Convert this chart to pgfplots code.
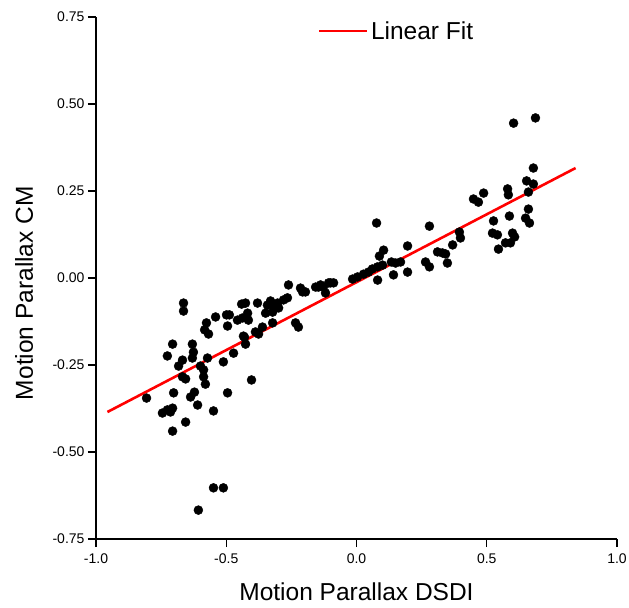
\documentclass[border=0pt]{standalone}
\usepackage{fontspec}
\setmainfont{Liberation Sans}
\usepackage{pgfplots}
\usepackage{pgfplotstable}
\pgfplotsset{compat=1.18}
\pgfplotstableread{
x y
-0.664 -0.072
-0.664 -0.095
-0.806 -0.345
-0.745 -0.388
-0.726 -0.379
-0.706 -0.374
-0.714 -0.385
-0.706 -0.440
-0.656 -0.414
-0.726 -0.224
-0.706 -0.190
-0.702 -0.330
-0.683 -0.253
-0.668 -0.236
-0.668 -0.284
-0.656 -0.290
-0.637 -0.342
-0.622 -0.328
-0.610 -0.365
-0.630 -0.190
-0.626 -0.213
-0.630 -0.230
-0.599 -0.253
-0.587 -0.264
-0.587 -0.284
-0.580 -0.305
-0.572 -0.230
-0.549 -0.382
-0.511 -0.241
-0.495 -0.330
-0.472 -0.216
-0.403 -0.293
-0.426 -0.190
-0.430 -0.170
-0.541 -0.112
-0.576 -0.129
-0.583 -0.149
-0.568 -0.161
-0.499 -0.106
-0.495 -0.138
-0.488 -0.106
-0.441 -0.075
-0.426 -0.072
-0.457 -0.121
-0.438 -0.115
-0.418 -0.101
-0.415 -0.121
-0.388 -0.155
-0.376 -0.161
-0.380 -0.072
-0.361 -0.141
-0.349 -0.101
-0.342 -0.078
-0.330 -0.066
-0.322 -0.098
-0.322 -0.129
-0.319 -0.080
-0.303 -0.072
-0.299 -0.086
-0.280 -0.063
-0.265 -0.057
-0.234 -0.129
-0.223 -0.141
-0.207 -0.040
-0.196 -0.040
-0.607 -0.667
-0.549 -0.603
-0.511 -0.603
-0.434 -0.167
-0.261 -0.020
-0.215 -0.029
-0.157 -0.026
-0.138 -0.020
-0.119 -0.043
-0.107 -0.014
-0.088 -0.014
-0.146 -0.026
-0.127 -0.026
-0.100 -0.014
-0.015 -0.003
0.004 0.003
0.027 0.011
0.046 0.017
0.061 0.026
0.081 0.032
0.081 -0.006
0.077 0.158
0.088 0.063
0.104 0.080
0.134 0.046
0.150 0.043
0.169 0.046
0.142 0.009
0.100 0.037
0.196 0.092
0.196 0.017
0.265 0.046
0.280 0.032
0.280 0.149
0.311 0.075
0.330 0.072
0.342 0.069
0.349 0.043
0.369 0.095
0.395 0.132
0.399 0.115
0.449 0.227
0.468 0.218
0.488 0.244
0.526 0.164
0.522 0.129
0.541 0.124
0.545 0.083
0.580 0.256
0.583 0.239
0.587 0.178
0.572 0.101
0.591 0.101
0.599 0.129
0.607 0.118
0.660 0.198
0.649 0.172
0.664 0.158
0.653 0.279
0.679 0.270
0.660 0.247
0.679 0.316
0.603 0.445
0.687 0.460
}\scatterdata
\begin{document}
\begin{tikzpicture}
\begin{axis}[
  at={(0,0)}, anchor=south west,
  scale only axis, width=521bp, height=522bp,
  xmin=-1, xmax=1, ymin=-0.75, ymax=0.75,
  axis x line*=bottom, axis y line*=left,
  axis line style={line width=1.2bp, black},
  tick align=outside, major tick length=8bp,
  every tick/.style={black, line width=1.2bp},
  xtick={-1,-0.5,0,0.5,1},
  xticklabels={-1.0,-0.5,0.0,0.5,1.0},
  ytick={-0.75,-0.5,-0.25,0,0.25,0.5,0.75},
  yticklabels={-0.75,-0.50,-0.25,0.00,0.25,0.50,0.75},
  tick label style={font=\fontsize{14bp}{17bp}\selectfont},
  xticklabel style={yshift=-3bp},
  xlabel={Motion Parallax DSDI},
  ylabel={Motion Parallax CM},
  every axis x label/.style={at={(axis description cs:0.5,0)}, anchor=base, yshift=-61bp, font=\fontsize{24.5bp}{29bp}\selectfont},
  every axis y label/.style={at={(axis description cs:0,0.471)}, xshift=-63bp, rotate=90, anchor=base, font=\fontsize{24.5bp}{29bp}\selectfont},
  legend style={draw=none, fill=none, inner sep=0pt, outer sep=0pt,
    at={(axis description cs:0.426,0.973)}, anchor=west,
    font=\fontsize{24.5bp}{29bp}\selectfont,
    nodes={inner sep=2.5bp}},
  legend image code/.code={\draw[#1] (0bp,0bp) -- (48bp,0bp);},
  clip=false,
]
\addplot[only marks, mark=*, mark size=4.5bp, black, mark options={fill=black, draw=black}, forget plot] table[x=x, y=y] {\scatterdata};
\addplot[red, line width=2.6bp] coordinates {(-0.956,-0.385) (0.841,0.316)};
\addlegendentry{Linear Fit}
\end{axis}
\pgfresetboundingbox
\useasboundingbox (-96bp,-69bp) rectangle (533bp,539bp);
\end{tikzpicture}
\end{document}
